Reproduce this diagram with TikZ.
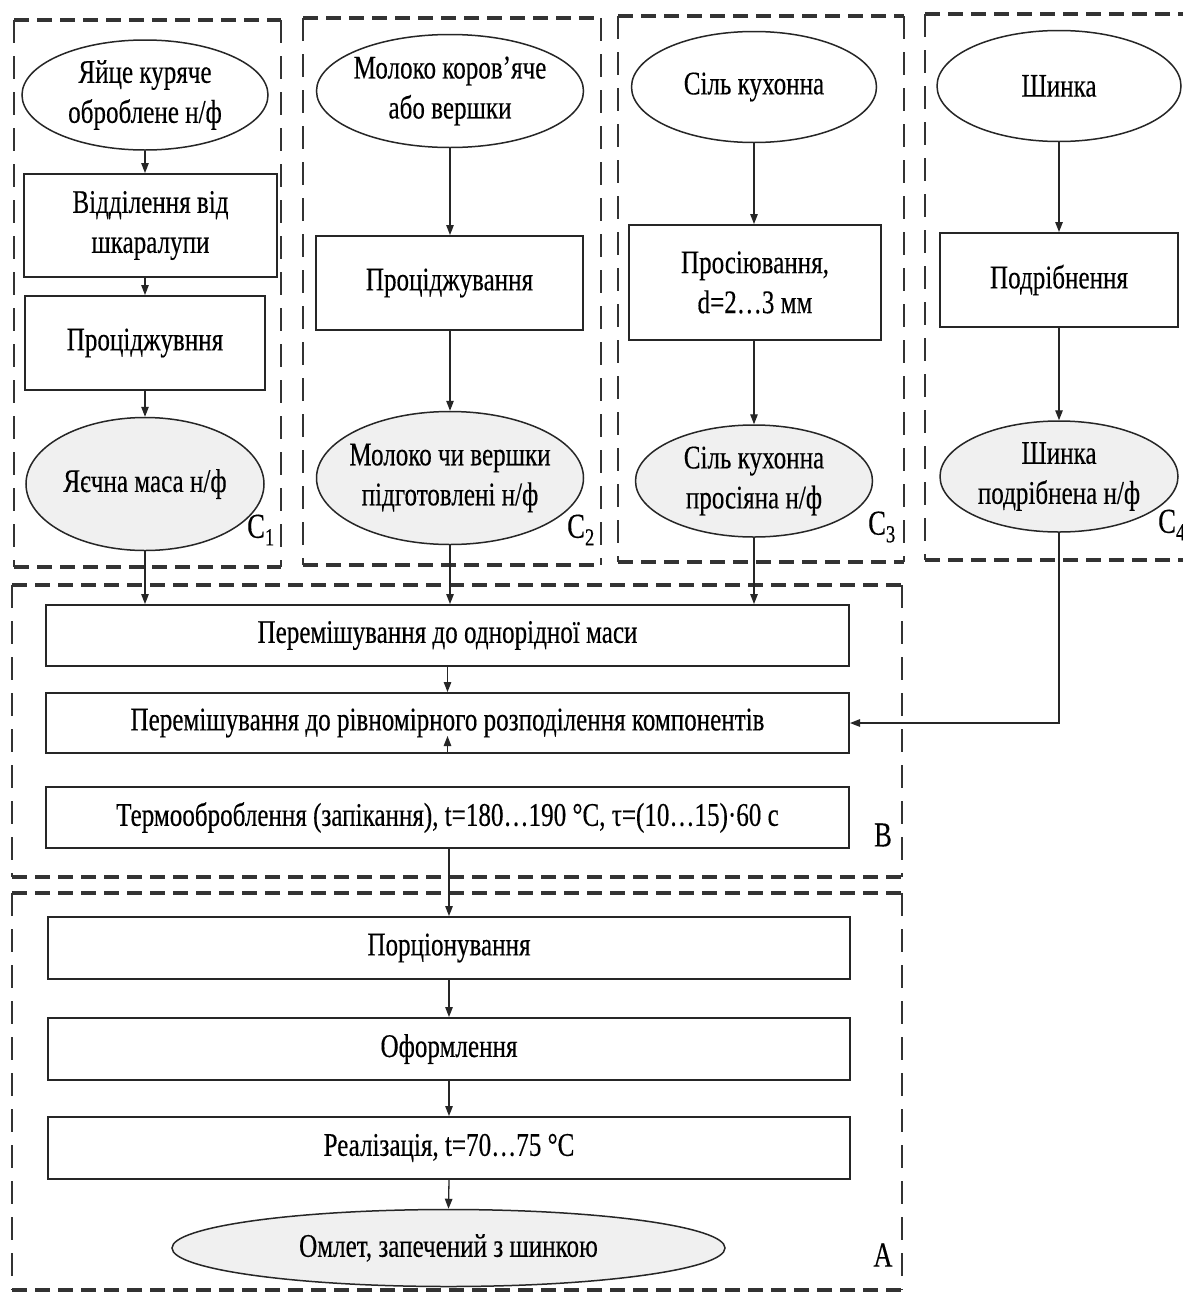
\documentclass[tikz,border=0pt]{standalone}
\usepackage{fontspec}
\setmainfont[FakeStretch=0.76,FakeBold=0.3]{Liberation Serif}
\usetikzlibrary{shapes.geometric,arrows.meta}

\begin{document}
\begin{tikzpicture}[x=1pt,y=-1pt,
  every node/.style={font=\fontsize{33}{40}\selectfont, text=black},
  proc/.style={draw=black!85, line width=2pt, rectangle, inner sep=0pt, align=center},
  ell/.style={draw=black!85, line width=1.5pt, ellipse, inner xsep=-60pt, inner ysep=-25pt, align=center},
  prod/.style={ell, fill=black!6},
  arr/.style={-{Triangle[length=10pt,width=7.5pt]}, line width=1.3pt, draw=black!85},
  grpH/.style={draw=black!80, line width=3.2pt, dash pattern=on 15pt off 8pt},
  grpV/.style={draw=black!80, line width=2.4pt, dash pattern=on 23pt off 13pt},
  tag/.style={inner sep=0pt, anchor=center, font=\fontsize{35}{40}\selectfont}
]
\useasboundingbox (0,0) rectangle (1183,1293);
\fill[white] (0,0) rectangle (1183,1293);
\clip (0,0) rectangle (1183,1293);

% ---------- group frames ----------
% C1
\draw[grpH] (14,20) -- (281,20) (14,567) -- (281,567);
\draw[grpV] (14,20) -- (14,567) (281,20) -- (281,567);
% C2
\draw[grpH] (303,18) -- (601,18) (303,565) -- (601,565);
\draw[grpV] (303,18) -- (303,565) (601,18) -- (601,565);
% C3
\draw[grpH] (618,16) -- (904,16) (618,562) -- (904,562);
\draw[grpV] (618,16) -- (618,562) (904,16) -- (904,562);
% C4
\draw[grpH] (925,14) -- (1195,14) (925,560) -- (1195,560);
\draw[grpV] (925,14) -- (925,560) (1195,14) -- (1195,560);
% B
\draw[grpH] (12,585) -- (902,585) (12,877) -- (902,877);
\draw[grpV] (12,585) -- (12,877) (902,585) -- (902,877);
% A
\draw[grpH] (12,893) -- (902,893) (12,1290) -- (902,1290);
\draw[grpV] (12,893) -- (12,1290) (902,893) -- (902,1290);

% ---------- column C1 ----------
\node[ell, minimum width=246pt, minimum height=110pt] (e1) at (145,95) {Яйце куряче\\оброблене н/ф};
\node[proc, minimum width=253pt, minimum height=103pt] (b1) at (150.5,225.5) {Відділення від\\шкаралупи};
\node[proc, minimum width=240pt, minimum height=94pt] (b2) at (145,343) {Проціджувння};
\node[prod, minimum width=238pt, minimum height=133pt] (e2) at (145,484) {Яєчна маса н/ф};

% ---------- column C2 ----------
\node[ell, minimum width=267pt, minimum height=113pt] (e3) at (450,91) {Молоко коров’яче\\або вершки};
\node[proc, minimum width=267pt, minimum height=94pt] (b3) at (449.5,283) {Проціджування};
\node[prod, minimum width=267pt, minimum height=133pt] (e4) at (450,478) {Молоко чи вершки\\підготовлені н/ф};

% ---------- column C3 ----------
\node[ell, minimum width=245pt, minimum height=111pt] (e5) at (754,87) {Сіль кухонна};
\node[proc, minimum width=252pt, minimum height=115pt] (b4) at (755,282.5) {Просіювання,\\d=2…3 мм};
\node[prod, minimum width=237pt, minimum height=112pt] (e6) at (754,481) {Сіль кухонна\\просіяна н/ф};

% ---------- column C4 ----------
\node[ell, minimum width=244pt, minimum height=111pt] (e7) at (1059,86) {Шинка};
\node[proc, minimum width=238pt, minimum height=94pt] (b5) at (1059,280) {Подрібнення};
\node[prod, minimum width=238pt, minimum height=111pt] (e8) at (1059,476.5) {Шинка\\подрібнена н/ф};

% ---------- block B ----------
\node[proc, minimum width=803pt, minimum height=61pt] (m1) at (447.5,635.5) {Перемішування до однорідної маси};
\node[proc, minimum width=803pt, minimum height=60pt] (m2) at (447.5,723) {Перемішування до рівномірного розподілення компонентів};
\node[proc, minimum width=803pt, minimum height=61pt] (m3) at (447.5,817.5) {Термооброблення (запікання), t=180…190 °С, τ=(10…15)·60 с};

% ---------- block A ----------
\node[proc, minimum width=802pt, minimum height=62pt] (p1) at (449,948) {Порціонування};
\node[proc, minimum width=802pt, minimum height=62pt] (p2) at (449,1049) {Оформлення};
\node[proc, minimum width=802pt, minimum height=62pt] (p3) at (449,1148) {Реалізація, t=70…75 °С};
\node[prod, minimum width=553pt, minimum height=77pt] (fin) at (448.5,1248) {Омлет, запечений з шинкою};

% ---------- group labels ----------
\node[tag] (lc1) at (261,530) {C\textsubscript{1}};
\node[tag] (lc2) at (581,530) {C\textsubscript{2}};
\node[tag] (lc3) at (882,527) {C\textsubscript{3}};
\node[tag] (lc4) at (1172,525) {C\textsubscript{4}};
\node[tag] (lb) at (883,835) {В};
\node[tag] (la) at (883,1255) {А};

% ---------- flow ----------
\draw[arr] (e1.south) -- (e1.south |- b1.north);
\draw[arr] (e1.south |- b1.south) -- (e1.south |- b2.north);
\draw[arr] (b2.south) -- (e2.north);
\draw[arr] (e2.south) -- (e2.south |- m1.north);

\draw[arr] (e3.south) -- (e3.south |- b3.north);
\draw[arr] (e3.south |- b3.south) -- (e4.north);
\draw[arr] (e4.south) -- (e4.south |- m1.north);

\draw[arr] (e5.south) -- (e5.south |- b4.north);
\draw[arr] (e5.south |- b4.south) -- (e6.north);
\draw[arr] (e6.south) -- (e6.south |- m1.north);

\draw[arr] (e7.south) -- (e7.south |- b5.north);
\draw[arr] (e7.south |- b5.south) -- (e7.south |- e8.north);
\draw[arr] (e8.south) |- (m2.east);

\draw[arr] (m1.south) -- (m2.north);
\draw[arr] (m2.south) -- ([yshift=18pt]m2.south);
\draw[arr] ([xshift=1.5pt]m3.south) -- ([xshift=1.5pt]m3.south |- p1.north);
\draw[arr] (p1.south) -- (p2.north);
\draw[arr] (p2.south) -- (p3.north);
\draw[arr] (p3.south) -- (fin.north);
\end{tikzpicture}
\end{document}
